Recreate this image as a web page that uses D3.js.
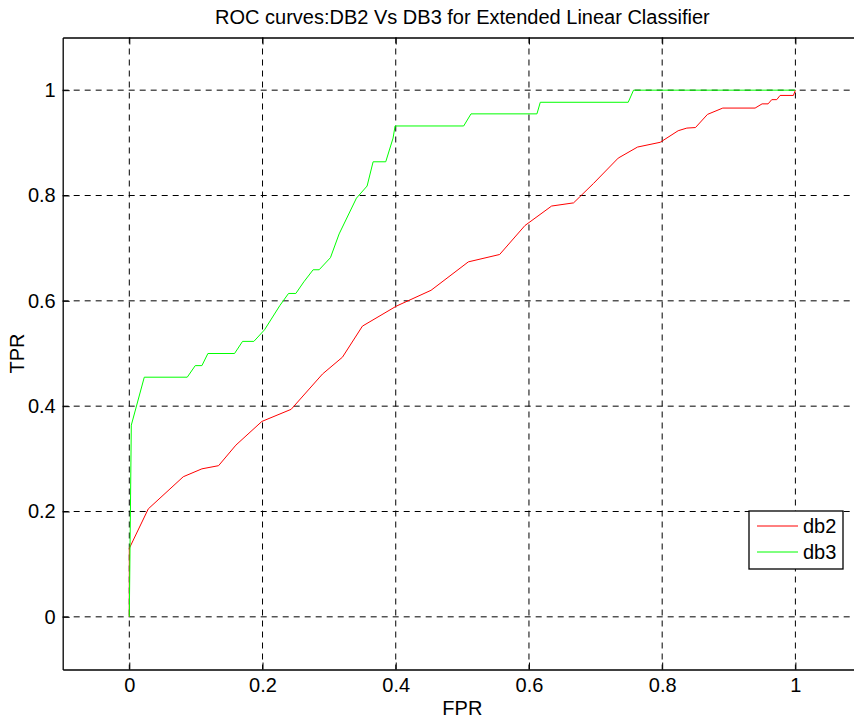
<!DOCTYPE html>
<html>
<head>
<meta charset="utf-8">
<script src="https://cdn.jsdelivr.net/npm/d3@7"></script>
<style>
  body { margin: 0; background: #fff; }
  svg { display: block; font-family: 'Liberation Sans', Arial, sans-serif; }
</style>
</head>
<body>
<script>
/* global d3 */

const titleText = 'ROC curves:DB2 Vs DB3 for Extended Linear Classifier';
const xAxisLabel = 'FPR';
const yAxisLabel = 'TPR';

const tickValues = [0, 0.2, 0.4, 0.6, 0.8, 1];
const tickLabels = ['0', '0.2', '0.4', '0.6', '0.8', '1'];

const seriesNames = ['db2', 'db3'];
const seriesColors = ['#ff0000', '#00ff00'];

const db2Fpr = [0, 0, 0.0285, 0.081, 0.109, 0.134, 0.160, 0.199, 0.243, 0.290, 0.320, 0.350,
  0.401, 0.453, 0.509, 0.556, 0.594, 0.634, 0.667, 0.697, 0.734, 0.763, 0.797, 0.824,
  0.837, 0.850, 0.868, 0.891, 0.9395, 0.950, 0.959, 0.9645, 0.972, 0.977, 0.997, 1.0];
const db2Tpr = [0, 0.130, 0.205, 0.266, 0.281, 0.287, 0.326, 0.371, 0.394, 0.461, 0.493, 0.552,
  0.590, 0.620, 0.674, 0.688, 0.743, 0.780, 0.786, 0.823, 0.871, 0.892, 0.901, 0.923,
  0.928, 0.929, 0.954, 0.966, 0.966, 0.974, 0.974, 0.982, 0.982, 0.990, 0.990, 1.0];

const db3Fpr = [0, 0.003, 0.0225, 0.087, 0.099, 0.109, 0.118, 0.158, 0.170, 0.187, 0.203, 0.226,
  0.239, 0.250, 0.262, 0.276, 0.285, 0.302, 0.315, 0.341, 0.357, 0.366, 0.385, 0.396,
  0.399, 0.502, 0.513, 0.612, 0.617, 0.749, 0.757, 1.0];
const db3Tpr = [0, 0.364, 0.455, 0.455, 0.477, 0.477, 0.500, 0.500, 0.523, 0.523, 0.545, 0.591,
  0.614, 0.614, 0.636, 0.659, 0.659, 0.682, 0.727, 0.795, 0.818, 0.864, 0.864, 0.909,
  0.932, 0.932, 0.955, 0.955, 0.977, 0.977, 1.0, 1.0];

const svgWidth = 854;
const svgHeight = 724;
const margin = {
  top: 37.5,
  left: 62.7,
};
// the right edge of the axes box sits just past the picture border
const width = 862 - margin.left;
const height = 669.5 - margin.top;
const fontSize = 20;

function myGraph() {
  const xScale = d3.scaleLinear()
    .domain([-0.1, 1.1])
    .range([0, width]);

  const yScale = d3.scaleLinear()
    .domain([-0.1, 1.1])
    .range([height, 0]);

  const svg = d3.select('body')
    .append('svg')
    .attr('width', svgWidth)
    .attr('height', svgHeight)
    .append('g')
    .attr('transform', `translate( ${margin.left}, ${margin.top} )`);

  // dashed grid
  svg.append('g')
    .attr('class', 'grid')
    .selectAll('line.vgrid')
    .data(tickValues)
    .join('line')
    .attr('x1', (d) => xScale(d))
    .attr('x2', (d) => xScale(d))
    .attr('y1', 0)
    .attr('y2', height)
    .attr('stroke', '#000')
    .attr('stroke-width', 1)
    .attr('stroke-dasharray', '6,5');

  svg.append('g')
    .attr('class', 'grid')
    .selectAll('line.hgrid')
    .data(tickValues)
    .join('line')
    .attr('x1', 0)
    .attr('x2', width)
    .attr('y1', (d) => yScale(d))
    .attr('y2', (d) => yScale(d))
    .attr('stroke', '#000')
    .attr('stroke-width', 1)
    .attr('stroke-dasharray', '6,5');

  // curves
  const series = [
    db2Fpr.map((f, i) => [f, db2Tpr[i]]),
    db3Fpr.map((f, i) => [f, db3Tpr[i]]),
  ];

  const line = d3.line()
    .x((d) => xScale(d[0]))
    .y((d) => yScale(d[1]));

  svg.selectAll('path.curve')
    .data(series)
    .join('path')
    .attr('class', 'curve')
    .attr('d', line)
    .attr('fill', 'none')
    .attr('stroke', (d, i) => seriesColors[i])
    .attr('stroke-width', 1);

  // axes, ticks pointing inwards
  const fmt = (d) => tickLabels[tickValues.indexOf(d)];

  const xAxis = d3.axisBottom(xScale)
    .tickValues(tickValues)
    .tickFormat(fmt)
    .tickSizeInner(-7)
    .tickSizeOuter(0)
    .tickPadding(8);
  const gx = svg.append('g')
    .attr('transform', `translate( 0, ${height} )`)
    .call(xAxis);

  const xTop = d3.axisTop(xScale)
    .tickValues(tickValues)
    .tickFormat('')
    .tickSizeInner(-7)
    .tickSizeOuter(0);
  const gxt = svg.append('g').call(xTop);

  const yAxis = d3.axisLeft(yScale)
    .tickValues(tickValues)
    .tickFormat(fmt)
    .tickSizeInner(-7)
    .tickSizeOuter(0)
    .tickPadding(7);
  const gy = svg.append('g').call(yAxis);

  const yRight = d3.axisRight(yScale)
    .tickValues(tickValues)
    .tickFormat('')
    .tickSizeInner(-7)
    .tickSizeOuter(0);
  const gyr = svg.append('g')
    .attr('transform', `translate( ${width}, 0 )`)
    .call(yRight);

  [gx, gxt, gy, gyr].forEach((g) => {
    g.select('.domain').attr('stroke', '#000').attr('stroke-width', 1.3);
    g.selectAll('.tick line').attr('stroke', '#000');
    g.selectAll('.tick text')
      .attr('fill', '#000')
      .style('font-size', `${fontSize}px`)
      .style('font-family', "'Liberation Sans', Arial, sans-serif");
  });

  // labels
  svg.append('text')
    .attr('x', width / 2)
    .attr('y', 24 - margin.top)
    .style('text-anchor', 'middle')
    .style('font-size', `${fontSize}px`)
    .text(titleText);

  svg.append('text')
    .attr('x', width / 2)
    .attr('y', 715 - margin.top)
    .style('text-anchor', 'middle')
    .style('font-size', `${fontSize}px`)
    .text(xAxisLabel);

  svg.append('text')
    .attr('transform', 'rotate(-90)')
    .attr('x', -(height / 2))
    .attr('y', 24 - margin.left)
    .style('text-anchor', 'middle')
    .style('font-size', `${fontSize}px`)
    .text(yAxisLabel);

  // legend
  const legend = svg.append('g')
    .attr('transform', `translate( ${749 - margin.left}, ${511 - margin.top} )`);

  legend.append('rect')
    .attr('width', 94)
    .attr('height', 58)
    .attr('fill', '#fff')
    .attr('stroke', '#000')
    .attr('stroke-width', 1.3);

  seriesNames.forEach((name, i) => {
    const ly = 15 + i * 26;
    legend.append('line')
      .attr('x1', 8)
      .attr('x2', 49)
      .attr('y1', ly)
      .attr('y2', ly)
      .attr('stroke', seriesColors[i])
      .attr('stroke-width', 1);
    legend.append('text')
      .attr('x', 54)
      .attr('y', ly + 7)
      .style('font-size', `${fontSize}px`)
      .text(name);
  });
}

myGraph();
</script>
</body>
</html>
